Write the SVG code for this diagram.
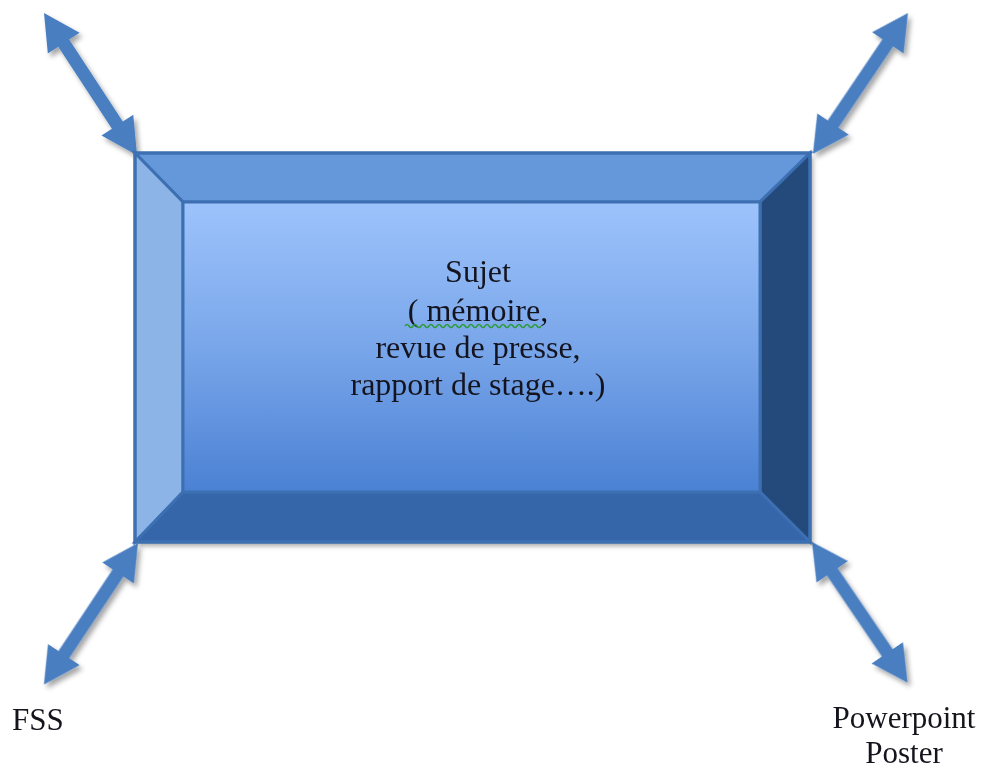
<svg xmlns="http://www.w3.org/2000/svg" width="985" height="769" viewBox="0 0 985 769">
<defs>
<style>
.lbl{font-family:"Liberation Serif","Times New Roman",serif;font-size:31px;fill:#14141c}
.ctr{font-family:"Liberation Serif","Times New Roman",serif;font-size:32px;fill:#14141f;text-anchor:middle}
.arr{fill:#4a7fc1}
.edge{stroke:#3d70b2;stroke-width:3;stroke-linejoin:miter}
</style>
<linearGradient id="face" x1="0" y1="0" x2="0" y2="1">
<stop offset="0" stop-color="#9dc3fb"/>
<stop offset="0.5" stop-color="#79a6ea"/>
<stop offset="1" stop-color="#4b81d3"/>
</linearGradient>
<filter id="sh" x="-20%" y="-20%" width="140%" height="140%">
<feDropShadow dx="3" dy="4" stdDeviation="2.5" flood-color="#000" flood-opacity="0.35"/>
</filter>
<path id="dbl" d="M0,0 L36,-19 L36,-6.5 L134,-6.5 L134,-19 L170,0 L134,19 L134,6.5 L36,6.5 L36,19 Z"/>
</defs>
<g id="connectors" filter="url(#sh)">
<use href="#dbl" class="arr" transform="translate(44,13) rotate(56.8)"/>
<use href="#dbl" class="arr" transform="translate(908,13) rotate(124)"/>
<use href="#dbl" class="arr" transform="translate(138,543) rotate(123.6)"/>
<use href="#dbl" class="arr" transform="translate(812,542) rotate(55.8)"/>
</g>
<g id="box">
<rect x="135" y="153" width="675" height="389" fill="#4a7fc1" filter="url(#sh)"/>
<polygon class="edge" points="135,153 810,153 760,202 183,202" fill="#6598da"/>
<polygon class="edge" points="135,153 183,202 183,492 135,542" fill="#8db4e6"/>
<polygon class="edge" points="810,153 810,542 760,492 760,202" fill="#244a7c"/>
<polygon class="edge" points="135,542 183,492 760,492 810,542" fill="#3566aa"/>
<rect class="edge" x="183" y="202" width="577" height="290" fill="url(#face)"/>
<rect x="135" y="153" width="675" height="389" fill="none" stroke="#3d70b2" stroke-width="3"/>
<text class="ctr" x="478" y="282">Sujet</text>
<text class="ctr" x="478" y="321">( mémoire,</text>
<path d="M405,326 q2,-3 4,0 t4,0 t4,0 t4,0 t4,0 t4,0 t4,0 t4,0 t4,0 t4,0 t4,0 t4,0 t4,0 t4,0 t4,0 t4,0 t4,0 t4,0 t4,0 t4,0 t4,0 t4,0 t4,0 t4,0 t4,0 t4,0 t4,0 t4,0 t4,0 t4,0 t4,0 t4,0 t4,0 t4,0" fill="none" stroke="#2f9a3a" stroke-width="1.5"/>
<text class="ctr" x="478" y="358">revue de presse,</text>
<text class="ctr" x="478" y="395">rapport de stage….)</text>
</g>
<g id="fss">
<text class="lbl" x="12" y="730">FSS</text>
</g>
<g id="powerpoint">
<text class="lbl" x="904" y="728" text-anchor="middle">Powerpoint</text>
<text class="lbl" x="904" y="763" text-anchor="middle">Poster</text>
</g>
</svg>
